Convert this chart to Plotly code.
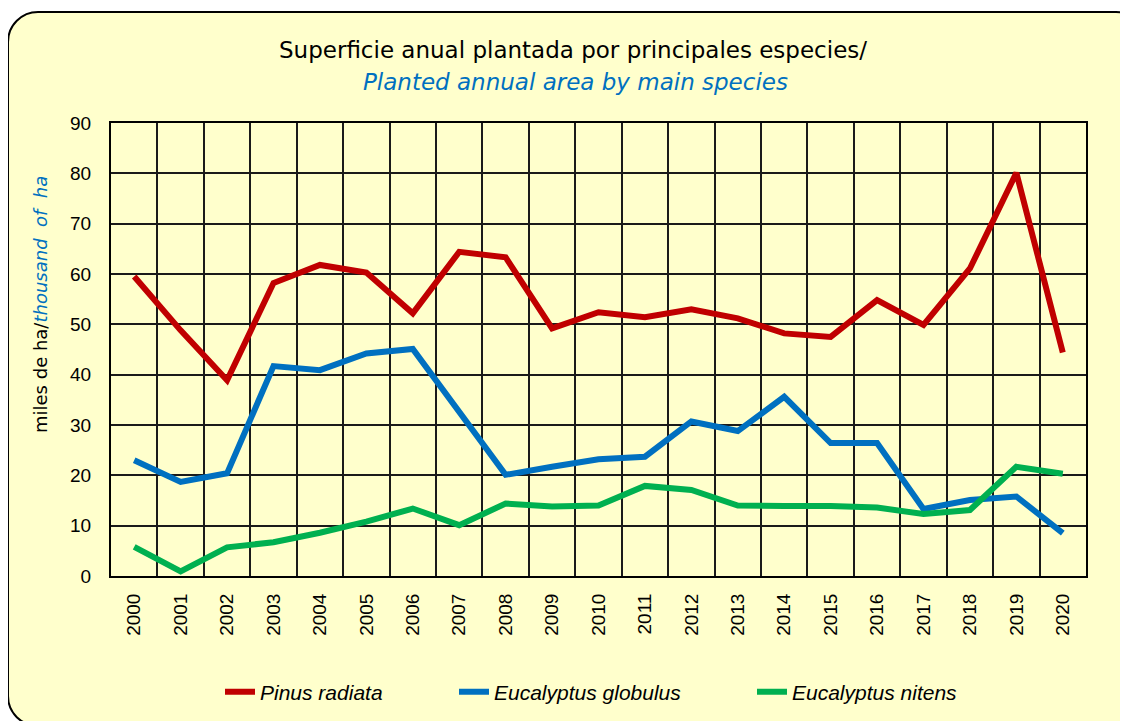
import plotly.graph_objects as go

years = [str(y) for y in range(2000, 2021)]
pinus_radiata = [59.5, 48.8, 38.9, 58.2, 61.8, 60.3, 52.2, 64.4, 63.3, 49.2, 52.4,
                 51.4, 53.0, 51.2, 48.2, 47.5, 54.8, 49.9, 61.1, 80.1, 44.4]
eucalyptus_globulus = [23.0, 18.7, 20.4, 41.7, 40.9, 44.2, 45.1, 32.8, 20.1, 21.7, 23.2,
                       23.7, 30.7, 28.8, 35.6, 26.4, 26.4, 13.3, 15.1, 15.8, 8.5]
eucalyptus_nitens = [5.8, 0.9, 5.7, 6.7, 8.6, 10.8, 13.4, 10.1, 14.4, 13.8, 14.0,
                     17.9, 17.1, 14.0, 13.9, 13.9, 13.6, 12.3, 13.1, 21.7, 20.3]
series_names = ["Pinus radiata", "Eucalyptus globulus", "Eucalyptus nitens"]
colors = ["#C00000", "#0070C0", "#00B050"]

W, H = 1128, 721
OFF = 8  # page body margin
PL, PR, PT, PB = 111, 1086, 123, 576   # plot area in screen pixels

def px(x):
    return (x - PL) / (PR - PL)

def py(y):
    return (PB - y) / (PB - PT)

BG = "#FFFFCC"
FONT = "Liberation Sans, Arial, sans-serif"
TFONT = "DejaVu Sans, Verdana, sans-serif"

fig = go.Figure()
legends = ["legend", "legend2", "legend3"]
for name, vals, col, lg in zip(series_names, [pinus_radiata, eucalyptus_globulus, eucalyptus_nitens], colors, legends):
    fig.add_trace(go.Scatter(x=years, y=vals, mode="lines", name=name,
                             line=dict(color=col, width=6), legend=lg))

# rounded background box
L, T, R, B, r = 8, 12, 1146, 726, 30
k = 0.5523
pts = [
    ("M", [(L + r, T)]),
    ("L", [(R - r, T)]),
    ("C", [(R - r + k * r, T), (R, T + r - k * r), (R, T + r)]),
    ("L", [(R, B - r)]),
    ("C", [(R, B - r + k * r), (R - r + k * r, B), (R - r, B)]),
    ("L", [(L + r, B)]),
    ("C", [(L + r - k * r, B), (L, B - r + k * r), (L, B - r)]),
    ("L", [(L, T + r)]),
    ("C", [(L, T + r - k * r), (L + r - k * r, T), (L + r, T)]),
]
path = ""
for cmd, ps in pts:
    path += cmd + " " + " ".join(f"{px(a):.5f},{py(b):.5f}" for a, b in ps) + " "
path += "Z"
fig.add_shape(type="path", path=path, xref="paper", yref="paper",
              fillcolor=BG, line=dict(color="black", width=2), layer="below")

# titles
fig.add_annotation(x=px(573), y=py(50), xref="paper", yref="paper", showarrow=False,
                   text="Superficie anual plantada por principales especies/",
                   font=dict(family=TFONT, size=23, color="black"), xanchor="center", yanchor="middle")
fig.add_annotation(x=px(575), y=py(82), xref="paper", yref="paper", showarrow=False,
                   text="<i>Planted annual area by main species</i>",
                   font=dict(family=TFONT, size=23, color="#0070C0"), xanchor="center", yanchor="middle")
fig.add_annotation(x=px(40), y=py(305), xref="paper", yref="paper", showarrow=False,
                   textangle=-90,
                   text="miles de ha/<i><span style='color:#0070C0'>thousand&nbsp; of&nbsp; ha</span></i>",
                   font=dict(family=TFONT, size=18, color="black"), xanchor="center", yanchor="middle")

leg_common = dict(orientation="h", yanchor="middle", xanchor="left",
                  bgcolor="rgba(0,0,0,0)",
                  font=dict(family=FONT, size=21, color="black", style="italic"))
fig.update_layout(
    legend=dict(x=px(220), y=py(692), **leg_common),
    legend2=dict(x=px(454), y=py(692), **leg_common),
    legend3=dict(x=px(752), y=py(692), **leg_common),
)

fig.update_layout(
    width=W, height=H,
    margin=dict(l=PL - OFF, r=W - (PR - OFF), t=PT - OFF, b=H - (PB - OFF), autoexpand=False),
    paper_bgcolor="white", plot_bgcolor=BG,
    showlegend=True,
    xaxis=dict(type="category", tickson="boundaries", showgrid=True, gridcolor="#1a1a1a", gridwidth=2,
               showline=True, linecolor="black", linewidth=2, mirror=True,
               ticks="", tickangle=-90, ticklabelstandoff=8,
               tickfont=dict(family=FONT, size=19, color="black"), range=[-0.5, 20.5]),
    yaxis=dict(range=[0, 90], dtick=10, tick0=0, showgrid=True, gridcolor="#1a1a1a", gridwidth=2,
               showline=True, linecolor="black", linewidth=2, mirror=True, zeroline=False,
               ticks="", ticklabelstandoff=14,
               tickfont=dict(family=FONT, size=19, color="black")),
)

fig.write_html("out.html")
